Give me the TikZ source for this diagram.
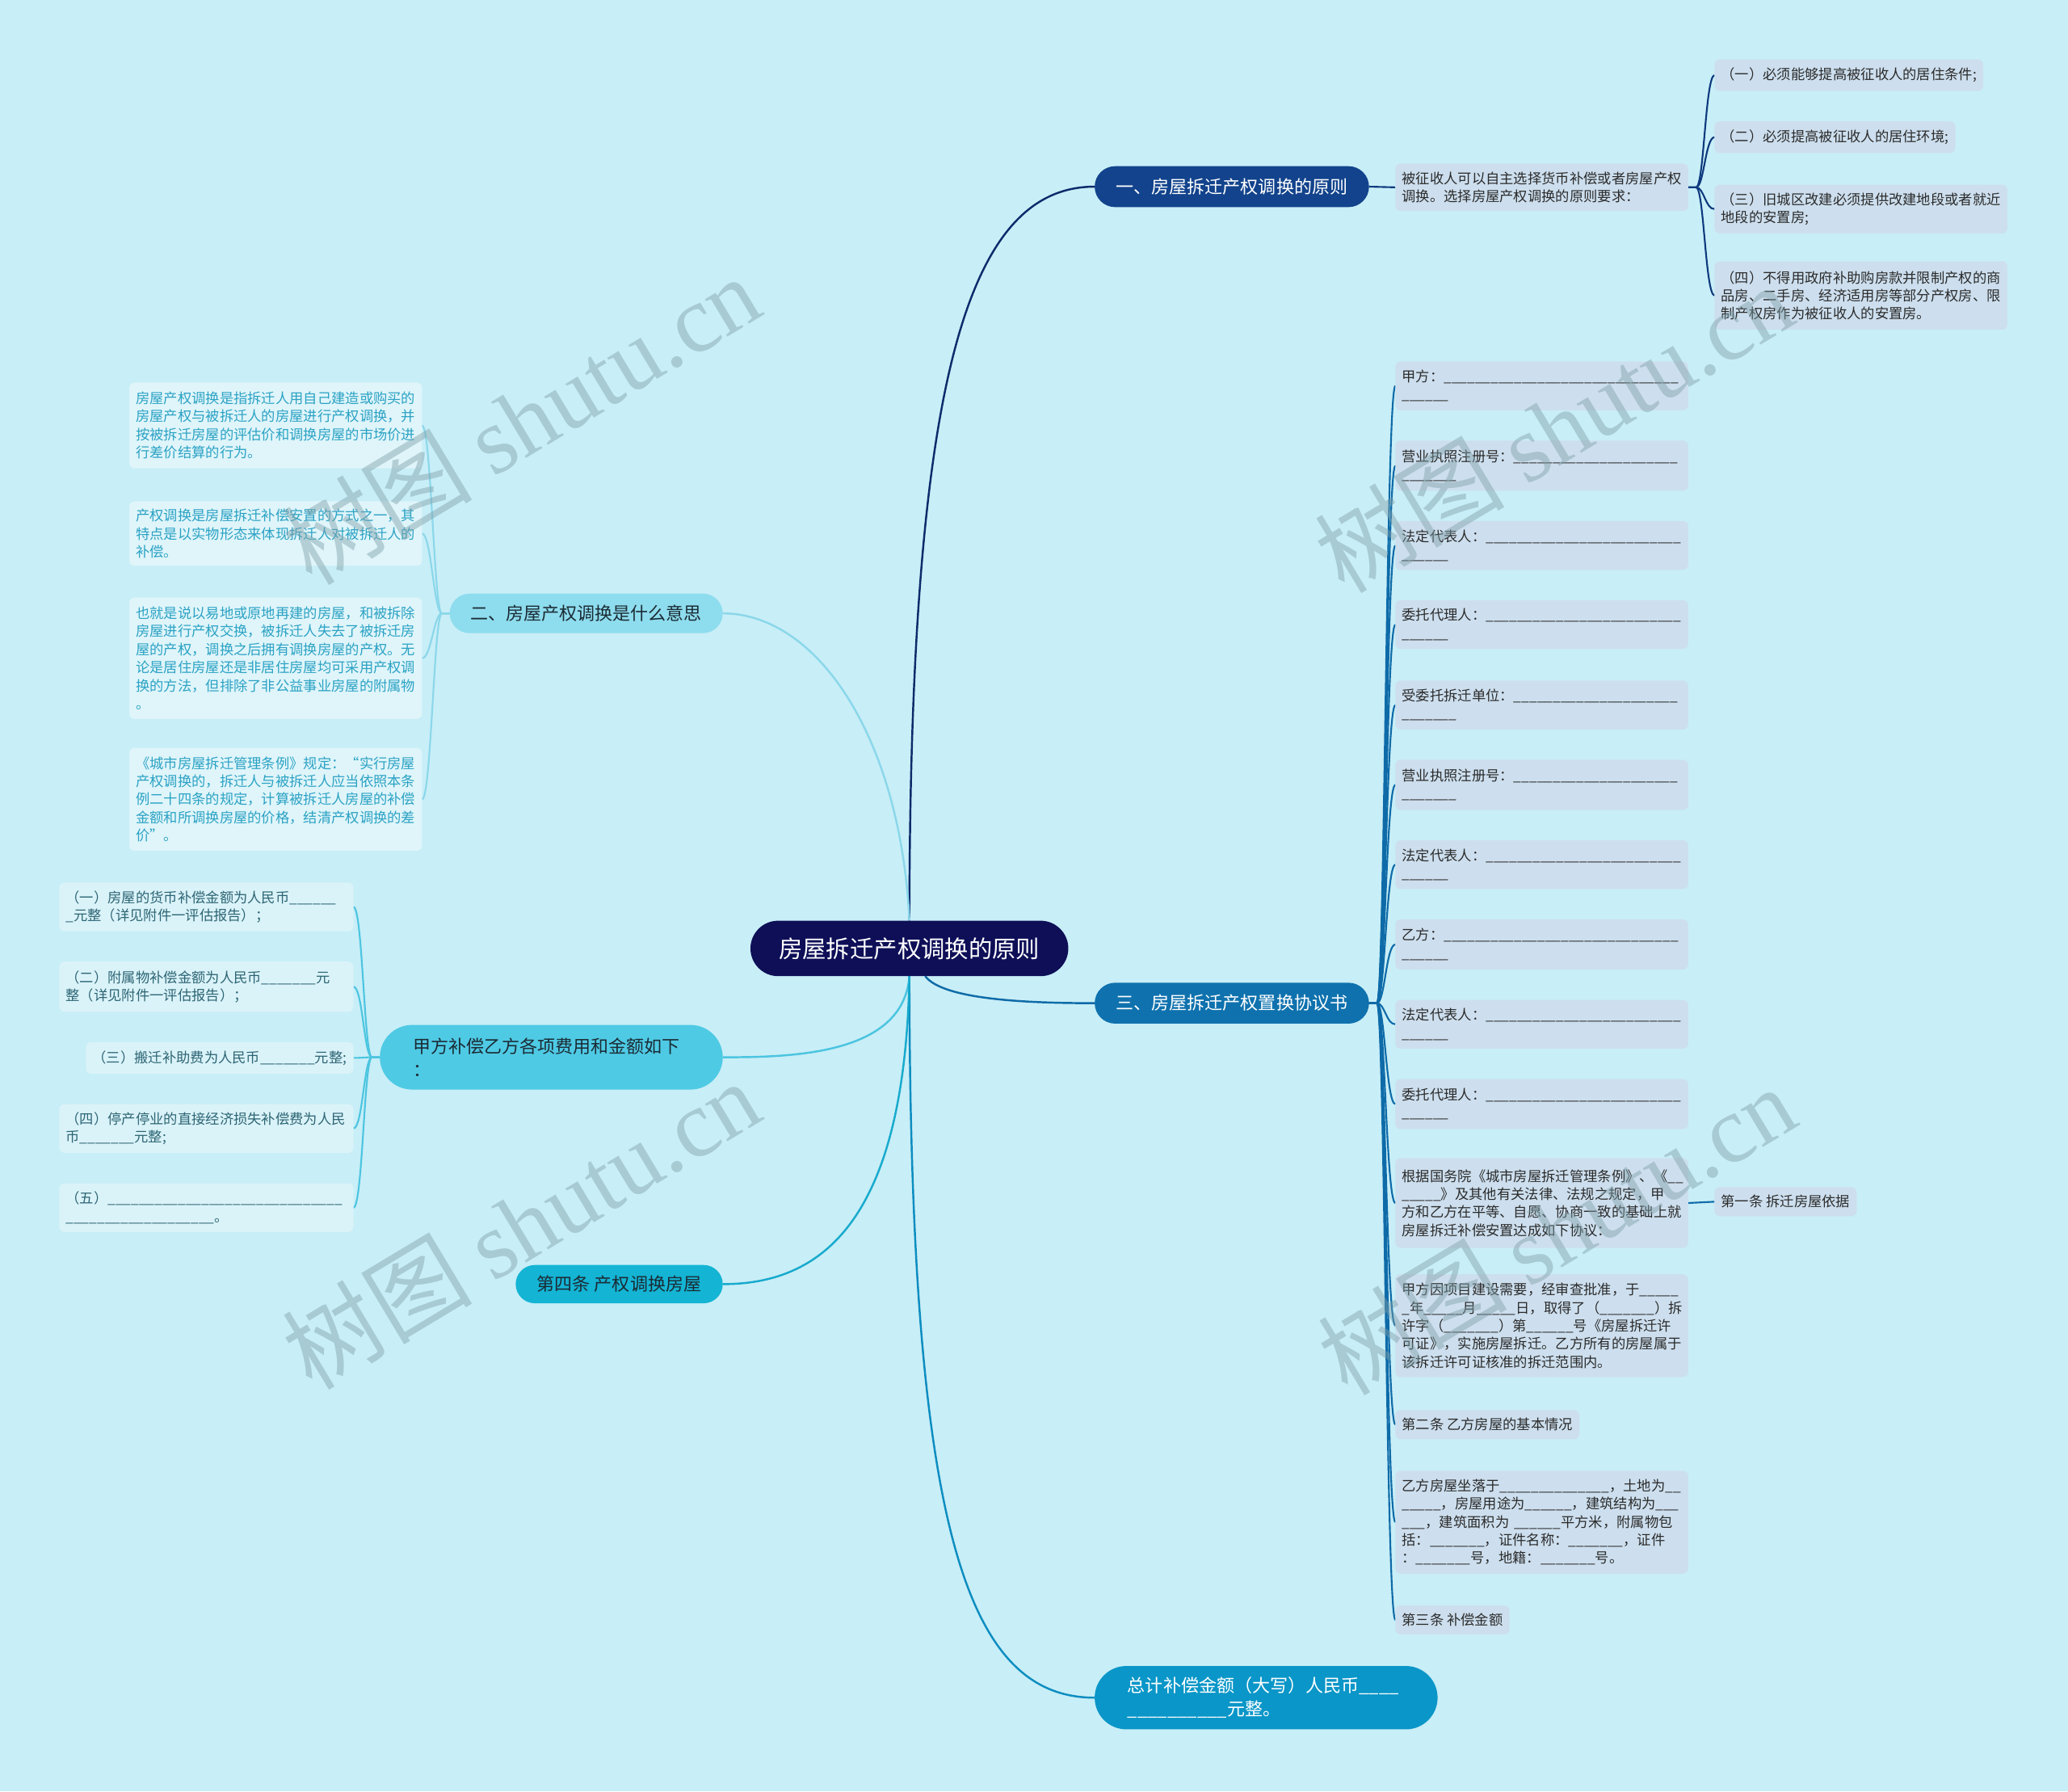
\documentclass[tikz,border=0pt]{standalone}
\usepackage{fontspec}
\setmainfont{Noto Sans CJK SC}
\newfontfamily\wmserif{Liberation Serif}
\usetikzlibrary{calc}
\ExplSyntaxOn
\cs_new:Npn \US #1 {\prg_replicate:nn {#1} {\_}}
\ExplSyntaxOff
\pgfdeclarelayer{back}
\pgfdeclarelayer{lines}
\pgfdeclarelayer{front}
\pgfsetlayers{back,lines,main,front}
\definecolor{bgc}{HTML}{C8EEF7}
\definecolor{cenf}{HTML}{0E0F57}
\definecolor{bAf}{HTML}{12438C}
\definecolor{bCf}{HTML}{0F72AE}
\definecolor{bBf}{HTML}{8EDDEE}
\definecolor{bDf}{HTML}{4ECAE4}
\definecolor{bEf}{HTML}{14B4D4}
\definecolor{bFf}{HTML}{0A96C8}
\definecolor{darktxt}{HTML}{1B2B35}
\definecolor{rlf}{HTML}{CDDFEE}
\definecolor{rlt}{HTML}{2B2B2B}
\definecolor{llf}{HTML}{DFF5FA}
\definecolor{llt}{HTML}{2BA2C4}
\definecolor{jlf}{HTML}{DAF3F9}
\definecolor{jlt}{HTML}{2D6574}
\definecolor{lA}{HTML}{0D2B6B}
\definecolor{lAA}{HTML}{0E3A7E}
\definecolor{lC}{HTML}{0E6BA8}
\definecolor{lB}{HTML}{8BD7EA}
\definecolor{lD}{HTML}{4CC5E0}
\definecolor{lE}{HTML}{17AACD}
\definecolor{lF}{HTML}{0C8DC0}
\definecolor{wmc}{HTML}{7F9FA8}
\tikzset{
  every node/.style={inner sep=0pt, outer sep=0pt},
  leaffont/.style={font=\fontsize{10.6}{13.7}\selectfont},
  rl/.style={leaffont, fill=rlf, text=rlt, rounded corners=4pt, inner xsep=5pt, inner ysep=3pt, align=left, anchor=north west},
  ll/.style={leaffont, fill=llf, text=llt, rounded corners=4pt, inner xsep=5pt, inner ysep=3pt, align=left, anchor=north east},
  jl/.style={leaffont, fill=jlf, text=jlt, rounded corners=4pt, inner xsep=5pt, inner ysep=3pt, align=left, anchor=north east},
  hub/.style={fill=cenf, text=white, minimum width=241pt, minimum height=42pt, rounded corners=21pt, font=\fontsize{18}{22}\selectfont},
  br/.style={minimum height=31pt, rounded corners=15.5pt, font=\fontsize{13.5}{18}\selectfont},
  mainline/.style={line width=1.5pt},
  subline/.style={line width=1.3pt},
  brR/.style={to path={-- ++(6,0) .. controls +(6,0) and +(-7,0) .. (\tikztotarget)}},
  brL/.style={to path={-- ++(-6,0) .. controls +(-6,0) and +(7,0) .. (\tikztotarget)}},
  wm/.style={text=wmc, text opacity=0.45, font=\fontsize{72}{72}\selectfont, rotate=31}
}
\begin{document}
\begin{tikzpicture}[x=1pt,y=-1pt]
\begin{pgfonlayer}{back}
\fill[bgc] (0,0) rectangle (1568,1358);
\end{pgfonlayer}
\useasboundingbox (0,0) rectangle (1568,1358);

% center and main branches
\node[hub] (C) at (689.5,719) {房屋拆迁产权调换的原则};
\node[br, fill=bAf, text=white, minimum width=208pt] (B1) at (934,141.5) {一、房屋拆迁产权调换的原则};
\node[br, fill=bCf, text=white, minimum width=208pt] (B3) at (934,760.5) {三、房屋拆迁产权置换协议书};
\node[br, fill=bBf, text=darktxt, minimum width=207pt, minimum height=30pt, rounded corners=15pt] (B2) at (444.5,465) {二、房屋产权调换是什么意思};
\node[br, fill=bEf, text=darktxt, minimum width=157pt, minimum height=29pt, rounded corners=14.5pt] (B5) at (469.5,973.5) {第四条 产权调换房屋};
\node[br, fill=bDf, text=darktxt, text width=210pt, align=left, inner xsep=25pt, minimum height=49pt, rounded corners=24.5pt] (B4) at (418,801.5) {甲方补偿乙方各项费用和金额如下\\：};
\node[br, fill=bFf, text=white, text width=210pt, align=left, inner xsep=25pt, minimum height=48pt, rounded corners=24pt] (B6) at (960,1287) {总计补偿金额（大写）人民币\US{4}\\\US{10}元整。};

% branch one
\node[rl, text width=212pt, minimum height=36pt] (K) at (1058,124) {被征收人可以自主选择货币补偿或者房屋产权\\调换。选择房屋产权调换的原则要求：};
\node[rl, minimum height=24pt] (G1) at (1300,45) {（一）必须能够提高被征收人的居住条件;};
\node[rl, minimum height=24pt] (G2) at (1300,92) {（二）必须提高被征收人的居住环境;};
\node[rl, text width=212pt, minimum height=37pt] (G3) at (1300,140) {（三）旧城区改建必须提供改建地段或者就近\\地段的安置房;};
\node[rl, text width=212pt, minimum height=52pt] (G4) at (1300,198) {（四）不得用政府补助购房款并限制产权的商\\品房、二手房、经济适用房等部分产权房、限\\制产权房作为被征收人的安置房。};

% branch three
\node[rl, text width=212pt, minimum height=37pt] (R1) at (1058,274) {甲方：\US{30}\\\US{6}};
\node[rl, text width=212pt, minimum height=38pt] (R2) at (1058,334) {营业执照注册号：\US{21}\\\US{7}};
\node[rl, text width=212pt, minimum height=37pt] (R3) at (1058,395) {法定代表人：\US{25}\\\US{6}};
\node[rl, text width=212pt, minimum height=37pt] (R4) at (1058,455) {委托代理人：\US{25}\\\US{6}};
\node[rl, text width=212pt, minimum height=37pt] (R5) at (1058,516) {受委托拆迁单位：\US{21}\\\US{7}};
\node[rl, text width=212pt, minimum height=38pt] (R6) at (1058,576) {营业执照注册号：\US{21}\\\US{7}};
\node[rl, text width=212pt, minimum height=37pt] (R7) at (1058,637) {法定代表人：\US{25}\\\US{6}};
\node[rl, text width=212pt, minimum height=38pt] (R8) at (1058,697) {乙方：\US{30}\\\US{6}};
\node[rl, text width=212pt, minimum height=37pt] (R9) at (1058,758) {法定代表人：\US{25}\\\US{6}};
\node[rl, text width=212pt, minimum height=38pt] (R10) at (1058,818) {委托代理人：\US{25}\\\US{6}};
\node[rl, text width=212pt, minimum height=68pt] (R11) at (1058,878) {根据国务院《城市房屋拆迁管理条例》、《\US{2}\\\US{5}》及其他有关法律、法规之规定，甲\\方和乙方在平等、自愿、协商一致的基础上就\\房屋拆迁补偿安置达成如下协议：};
\node[rl, text width=212pt, minimum height=78pt] (R12) at (1058,966) {甲方因项目建设需要，经审查批准，于\US{5}\\\US{1}年\US{5}月\US{5}日，取得了（\US{7}）拆\\许字（\US{7}）第\US{6}号《房屋拆迁许\\可证》，实施房屋拆迁。乙方所有的房屋属于\\该拆迁许可证核准的拆迁范围内。};
\node[rl, minimum height=22pt] (R13) at (1058,1069) {第二条 乙方房屋的基本情况};
\node[rl, text width=212pt, minimum height=78pt] (R14) at (1058,1115) {乙方房屋坐落于\US{14}，土地为\US{2}\\\US{5}，房屋用途为\US{6}，建筑结构为\US{3}\\\US{3}，建筑面积为~\US{6}平方米，附属物包\\括：\US{7}，证件名称：\US{7}，证件\\：\US{7}号，地籍：\US{7}号。};
\node[rl, minimum height=22pt] (R15) at (1058,1217) {第三条 补偿金额};
\node[rl, minimum height=22pt] (D1) at (1300,900) {第一条 拆迁房屋依据};

% branch two leaves
\node[ll, text width=212pt, minimum height=65pt] (L1) at (320,290) {房屋产权调换是指拆迁人用自己建造或购买的\\房屋产权与被拆迁人的房屋进行产权调换，并\\按被拆迁房屋的评估价和调换房屋的市场价进\\行差价结算的行为。};
\node[ll, text width=212pt, minimum height=49pt] (L2) at (320,380) {产权调换是房屋拆迁补偿安置的方式之一，其\\特点是以实物形态来体现拆迁人对被拆迁人的\\补偿。};
\node[ll, text width=212pt, minimum height=92pt] (L3) at (320,453) {也就是说以易地或原地再建的房屋，和被拆除\\房屋进行产权交换，被拆迁人失去了被拆迁房\\屋的产权，调换之后拥有调换房屋的产权。无\\论是居住房屋还是非居住房屋均可采用产权调\\换的方法，但排除了非公益事业房屋的附属物\\。};
\node[ll, text width=212pt, minimum height=78pt] (L4) at (320,567) {《城市房屋拆迁管理条例》规定：“实行房屋\\产权调换的，拆迁人与被拆迁人应当依照本条\\例二十四条的规定，计算被拆迁人房屋的补偿\\金额和所调换房屋的价格，结清产权调换的差\\价”。};

% branch 甲方 leaves
\node[jl, text width=213pt, minimum height=37pt] (J1) at (268,669) {（一）房屋的货币补偿金额为人民币\US{6}\\\US{1}元整（详见附件一评估报告）；};
\node[jl, text width=213pt, minimum height=38pt] (J2) at (268,729) {（二）附属物补偿金额为人民币\US{7}元\\整（详见附件一评估报告）；};
\node[jl, minimum height=24pt] (J3) at (268,790) {（三）搬迁补助费为人民币\US{7}元整;};
\node[jl, text width=213pt, minimum height=37pt] (J4) at (268,837) {（四）停产停业的直接经济损失补偿费为人民\\币\US{7}元整;};
\node[jl, text width=213pt, minimum height=37pt] (J5) at (268,897) {（五）\US{30}\\\US{19}。};

% connectors
\begin{pgfonlayer}{lines}
\draw[mainline, lA] (C.north) .. controls (690,300) and (730,141.5) .. (B1.west);
\draw[mainline, lC] ($(C.south)+(12,0)$) .. controls (715,758) and (780,760.5) .. (B3.west);
\draw[mainline, lF] (C.south) .. controls (690,1150) and (730,1287) .. (B6.west);
\draw[mainline, lB] (C.north) .. controls (683,560) and (620,465) .. (B2.east);
\draw[mainline, lD] (C.south) .. controls (685,800) and (600,801.5) .. (B4.east);
\draw[mainline, lE] (C.south) .. controls (686,930) and (620,973.5) .. (B5.east);

\draw[subline, lAA] (B1.east) -- (K.west);
\foreach \n in {G1,G2,G3,G4} \draw[subline, lAA] (K.east) to[brR] (\n.west);
\foreach \n in {R1,R2,R3,R4,R5,R6,R7,R8,R9,R10,R11,R12,R13,R14,R15} \draw[subline, lC] (B3.east) to[brR] (\n.west);
\draw[subline, lC] (R11.east) -- (D1.west);
\foreach \n in {L1,L2,L3,L4} \draw[subline, lB] (B2.west) to[brL] (\n.east);
\foreach \n in {J1,J2,J3,J4,J5} \draw[subline, lD] (B4.west) to[brL] (\n.east);
\end{pgfonlayer}

% watermarks
\begin{pgfonlayer}{front}
\node[wm] (W1) at (395,318) {树图 {\wmserif shutu.cn}};
\node[wm] (W2) at (1178,324) {树图 {\wmserif shutu.cn}};
\node[wm] (W3) at (395,928) {树图 {\wmserif shutu.cn}};
\node[wm] (W4) at (1180,932) {树图 {\wmserif shutu.cn}};
\end{pgfonlayer}
\end{tikzpicture}
\end{document}
